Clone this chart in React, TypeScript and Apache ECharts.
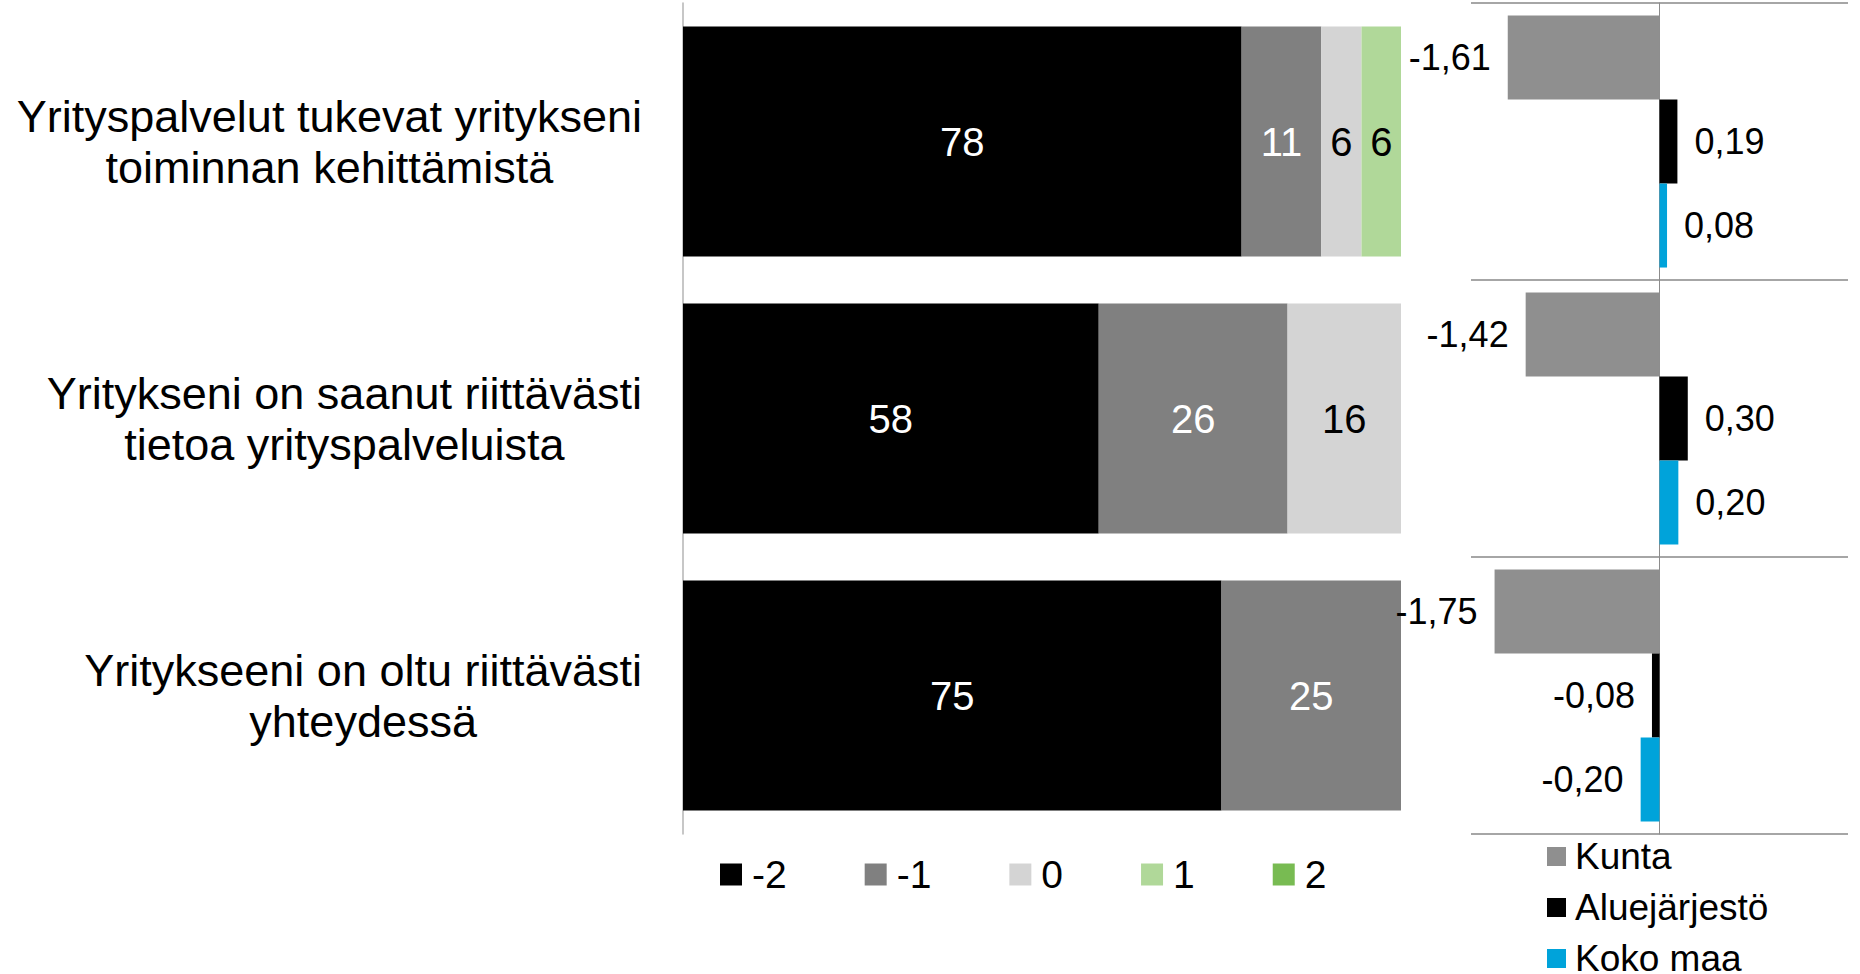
import React, { useEffect, useRef } from "react";
import * as echarts from "echarts";

// ---- Data ----
const categories = [
  "Yrityspalvelut tukevat yritykseni\ntoiminnan kehittämistä",
  "Yritykseni on saanut riittävästi\ntietoa yrityspalveluista",
  "Yritykseeni on oltu riittävästi\nyhteydessä",
];
const scaleNames = ["-2", "-1", "0", "1", "2"];
const valMinus2 = [77.8, 57.9, 75];
const valMinus1 = [11.1, 26.3, 25];
const val0 = [5.6, 15.8, 0];
const val1 = [5.6, 0, 0];
const val2 = [0, 0, 0];
const scaleValues = [valMinus2, valMinus1, val0, val1, val2];

const compareNames = ["Kunta", "Aluejärjestö", "Koko maa"];
const kunta = [-1.61, -1.42, -1.75];
const aluejarjesto = [0.19, 0.3, -0.08];
const kokoMaa = [0.08, 0.2, -0.2];
const compareValues = [kunta, aluejarjesto, kokoMaa];

// ---- Styles ----
const FONT = "'Liberation Sans', Arial, sans-serif";
const scaleColors = ["#000000", "#808080", "#d4d4d4", "#b0d899", "#78bb52"];
const scaleLabelColors = ["#ffffff", "#ffffff", "#000000", "#000000", "#000000"];
const compareColors = ["#8f8f8f", "#000000", "#00a3da"];

export default function App() {
  const ref = useRef<HTMLDivElement>(null);

  useEffect(() => {
    if (!ref.current) return;
    const chart = echarts.init(ref.current, null, { renderer: "svg" });

    const top = 3;
    const bottom = 974 - 834;

    const leftSeries = scaleNames.map((name, i) => ({
      name,
      type: "bar",
      stack: "scale",
      xAxisIndex: 0,
      yAxisIndex: 0,
      barCategoryGap: "17%",
      itemStyle: { color: scaleColors[i] },
      label: {
        show: true,
        position: "inside",
        color: scaleLabelColors[i],
        fontSize: 40,
        fontFamily: FONT,
        formatter: (p: any) => (p.value ? String(Math.round(p.value)) : ""),
      },
      data: scaleValues[i],
    }));

    const rightSeries = compareNames.map((name, i) => ({
      name,
      type: "bar",
      xAxisIndex: 1,
      yAxisIndex: 1,
      barGap: "0%",
      barCategoryGap: "9%",
      itemStyle: { color: compareColors[i] },
      data: compareValues[i].map((v) => ({
        value: v,
        label: { position: v < 0 ? "left" : "right" },
      })),
      label: {
        show: true,
        distance: 17,
        color: "#000000",
        fontSize: 36,
        fontFamily: FONT,
        formatter: (p: any) => p.value.toFixed(2).replace(".", ","),
      },
    }));

    chart.setOption({
      animation: false,
      backgroundColor: "#ffffff",
      textStyle: { fontFamily: FONT },
      grid: [
        { left: 683, width: 718, top, bottom, containLabel: false },
        { left: 1471, width: 377, top, bottom, containLabel: false },
      ],
      xAxis: [
        { type: "value", gridIndex: 0, min: 0, max: 100, show: false },
        { type: "value", gridIndex: 1, min: -2, max: 2, show: false },
      ],
      yAxis: [
        {
          type: "category",
          gridIndex: 0,
          inverse: true,
          data: categories,
          axisLine: { show: true, lineStyle: { color: "#b4b4b4", width: 1.5 } },
          axisTick: { show: false },
          splitLine: { show: false },
          axisLabel: {
            margin: 41,
            fontFamily: FONT,
            formatter: (v: string) =>
              v
                .split("\n")
                .map((l) => `{c|${l}}`)
                .join("\n"),
            rich: {
              c: {
                align: "center",
                fontSize: 45,
                lineHeight: 51,
                color: "#000000",
                fontFamily: FONT,
              },
            },
          },
        },
        {
          type: "category",
          gridIndex: 1,
          inverse: true,
          data: categories,
          axisLine: { show: true, onZero: true, lineStyle: { color: "#8c8c8c", width: 1 } },
          axisTick: { show: false },
          axisLabel: { show: false },
          splitLine: { show: true, lineStyle: { color: "#a6a6a6", width: 2 } },
        },
      ],
      legend: [
        {
          data: scaleNames,
          left: 720,
          top: 855,
          padding: 0,
          orient: "horizontal",
          icon: "rect",
          itemWidth: 22,
          itemHeight: 22,
          itemGap: 78,
          selectedMode: false,
          textStyle: {
            fontSize: 39,
            lineHeight: 22,
            color: "#000000",
            fontFamily: FONT,
            padding: [0, 0, 0, 5],
          },
        },
        {
          data: compareNames,
          left: 1547,
          top: 838,
          height: 300,
          padding: 0,
          orient: "vertical",
          icon: "rect",
          itemWidth: 19,
          itemHeight: 19,
          itemGap: 14,
          selectedMode: false,
          textStyle: {
            fontSize: 37,
            lineHeight: 19,
            color: "#000000",
            fontFamily: FONT,
            padding: [0, 0, 0, 4],
          },
        },
      ],
      series: [...leftSeries, ...rightSeries],
    });

    return () => chart.dispose();
  }, []);

  return (
    <div
      ref={ref}
      style={{ position: "fixed", left: 0, top: 0, width: 1860, height: 974 }}
    />
  );
}
